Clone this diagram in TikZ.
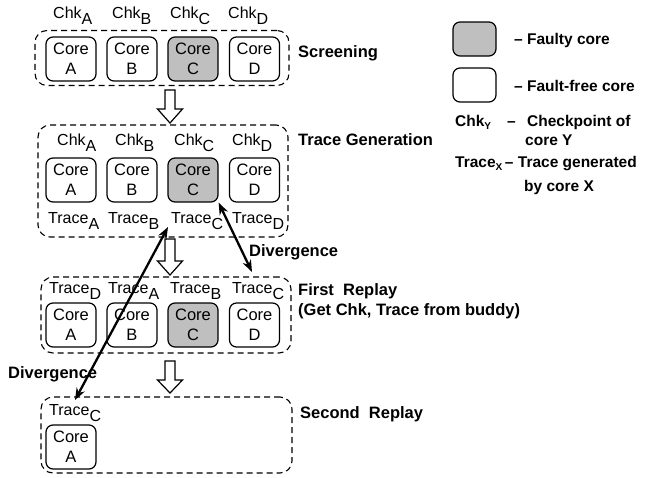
\documentclass[tikz,border=0pt]{standalone}
\usepackage{fontspec}
\setmainfont{Liberation Sans}
\usetikzlibrary{arrows.meta,calc}
\newcommand\sbx[1]{\raisebox{-6pt}{#1}}
\newcommand\ssb[1]{\raisebox{-3pt}{\fontsize{10}{10}\selectfont #1}}
\begin{document}
\begin{tikzpicture}[x=1pt,y=-1pt,
  core/.style={draw,line width=1.2pt,rounded corners=7pt,minimum width=50pt,minimum height=44pt,inner sep=0pt,align=center,font=\fontsize{16.5}{20}\selectfont},
  faulty/.style={core,fill=black!25},
  phasebox/.style={draw,dash pattern=on 6pt off 4pt,line width=1.1pt,rounded corners=12pt,inner sep=0pt},
  lbl/.style={anchor=base west,inner sep=0pt,font=\fontsize{16}{20}\selectfont},
  blbl/.style={anchor=base west,inner sep=0pt,align=left,font=\fontsize{16.5}{20}\selectfont\bfseries},
  leg/.style={anchor=base west,inner sep=0pt,align=left,font=\fontsize{15.5}{20}\selectfont\bfseries},
  hollow/.style={draw,line width=1.2pt,fill=white},
  div/.style={line width=2.3pt,{Stealth[length=12pt,width=9pt]}-{Stealth[length=12pt,width=9pt]}}]
\useasboundingbox (0,0) rectangle (650,477);

% phase boxes
\node[phasebox,minimum width=254pt,minimum height=55pt] (p1) at (162,58) {};
\node[phasebox,minimum width=250pt,minimum height=112pt] (p2) at (163,181) {};
\node[phasebox,minimum width=250pt,minimum height=76pt] (p3) at (166,315) {};
\node[phasebox,minimum width=251pt,minimum height=76pt] (p4) at (166.5,435) {};

% screening
\node[core] (a1) at (71,59) {Core\\A};
\node[core] (b1) at (132,59) {Core\\B};
\node[faulty] (c1) at (193,59) {Core\\C};
\node[core] (d1) at (254.5,59) {Core\\D};
\node[lbl] (ka1) at (53,18) {Chk\sbx{A}};
\node[lbl] (kb1) at (112,18) {Chk\sbx{B}};
\node[lbl] (kc1) at (170,18) {Chk\sbx{C}};
\node[lbl] (kd1) at (228,18) {Chk\sbx{D}};

% trace generation
\node[core] (a2) at (71,180) {Core\\A};
\node[core] (b2) at (132,180) {Core\\B};
\node[faulty] (c2) at (193,180) {Core\\C};
\node[core] (d2) at (254.5,180) {Core\\D};
\node[lbl] (ka2) at (57,145) {Chk\sbx{A}};
\node[lbl] (kb2) at (115,145) {Chk\sbx{B}};
\node[lbl] (kc2) at (174,145) {Chk\sbx{C}};
\node[lbl] (kd2) at (232,145) {Chk\sbx{D}};
\node[lbl] (ta2) at (48,223) {Trace\sbx{A}};
\node[lbl] (tb2) at (108,223) {Trace\sbx{B}};
\node[lbl] (tc2) at (171,223) {Trace\sbx{C}};
\node[lbl] (td2) at (232,223) {Trace\sbx{D}};

% first replay
\node[core] (a3) at (71,325) {Core\\A};
\node[core] (b3) at (132,325) {Core\\B};
\node[faulty] (c3) at (193,325) {Core\\C};
\node[core] (d3) at (254.5,325) {Core\\D};
\node[lbl] (ta3) at (49,293) {Trace\sbx{D}};
\node[lbl] (tb3) at (108,293) {Trace\sbx{A}};
\node[lbl] (tc3) at (170,293) {Trace\sbx{B}};
\node[lbl] (td3) at (232,293) {Trace\sbx{C}};

% second replay
\node[core] (a4) at (71,447) {Core\\A};
\node[lbl] (ta4) at (49,415) {Trace\sbx{C}};

% phase labels
\node[blbl] (l1) at (298,57) {Screening};
\node[blbl] (l2) at (298,145) {Trace Generation};
\node[blbl] (l3) at (298,295) {First\ \ Replay};
\node[blbl] (l3b) at (298,315) {(Get Chk, Trace from buddy)};
\node[blbl] (l4) at (300,418) {Second\ \ Replay};

% hollow arrows
\foreach \yt/\yb/\yp in {90/109/123, 239/261/275, 361/380/393}{
  \draw[hollow] (165,\yt) -- (175,\yt) -- (175,\yb) -- (182.5,\yb) -- (170,\yp)
     -- (157.5,\yb) -- (165,\yb) -- cycle;
}

% divergence arrows
\coordinate (e1) at (252,272);
\coordinate (s2) at (168,227);
\coordinate (e2) at (75,400);
\draw[div] (c2.south east) -- (e1);
\draw[div] (s2) -- (e2);
\node[blbl] (dv1) at (249,256) {Divergence};
\node[blbl] (dv2) at (8,378) {Divergence};

% legend
\node[faulty,minimum width=43pt,minimum height=34pt] (lg1) at (474.5,39) {};
\node[core,minimum width=43pt,minimum height=34pt] (lg2) at (474.5,85) {};
\node[leg] (lt1) at (514,44) {-- Faulty core};
\node[leg] (lt2) at (514,91) {-- Fault-free core};
\node[leg] (lt3) at (455,126) {Chk\ssb{Y}};
\node[leg] (lt3d) at (507,126) {--};
\node[leg] (lt3b) at (527,126) {Checkpoint of};
\node[leg] (lt3c) at (525,145) {core Y};
\node[leg] (lt4) at (455,167) {Trace\ssb{X}\,-- Trace generated};
\node[leg] (lt4b) at (524,191) {by core X};
\end{tikzpicture}
\end{document}
